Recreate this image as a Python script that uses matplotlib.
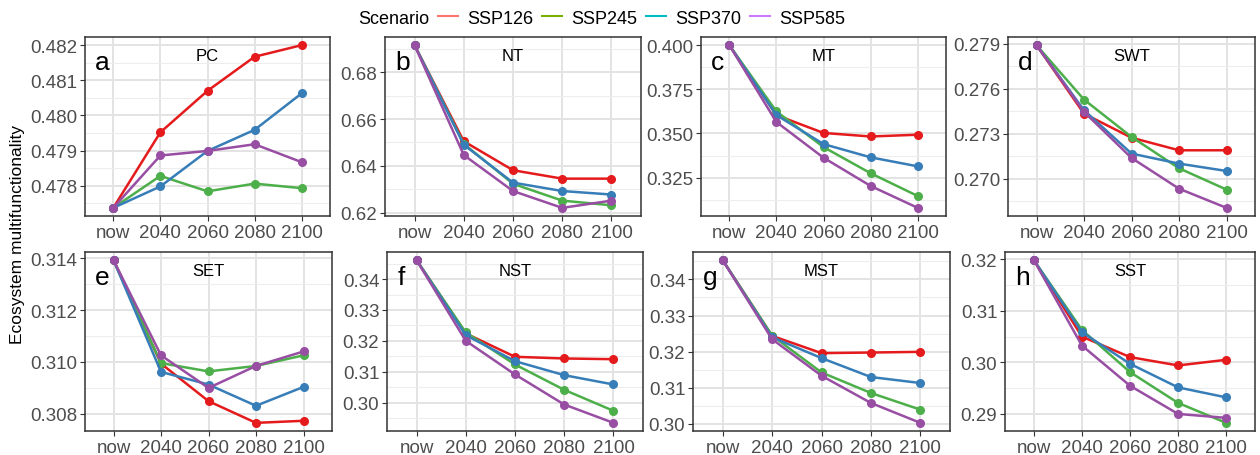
import matplotlib
matplotlib.use("Agg")
import matplotlib.pyplot as plt
from matplotlib.lines import Line2D
from matplotlib.ticker import FixedLocator, FormatStrFormatter, AutoMinorLocator

plt.rcParams['font.family'] = ['Liberation Sans', 'DejaVu Sans']

# data
periods = ["now", "2040", "2060", "2080", "2100"]
panels = ["PC", "NT", "MT", "SWT", "SET", "NST", "MST", "SST"]
letters = ["a", "b", "c", "d", "e", "f", "g", "h"]
scenarios = ["SSP126", "SSP245", "SSP370", "SSP585"]

ssp126 = [
    [0.47737, 0.47952, 0.48070, 0.48167, 0.48200],
    [0.69162, 0.65050, 0.63810, 0.63450, 0.63450],
    [0.40000, 0.36040, 0.35030, 0.34830, 0.34930],
    [0.27890, 0.27433, 0.27273, 0.27189, 0.27189],
    [0.31393, 0.30993, 0.30848, 0.30764, 0.30772],
    [0.34616, 0.32239, 0.31483, 0.31428, 0.31405],
    [0.34533, 0.32436, 0.31959, 0.31975, 0.31994],
    [0.31986, 0.30499, 0.30100, 0.29937, 0.30047],
]
ssp245 = [
    [0.47737, 0.47828, 0.47784, 0.47806, 0.47793],
    [0.69162, 0.64940, 0.63230, 0.62510, 0.62310],
    [0.40000, 0.36250, 0.34230, 0.32750, 0.31460],
    [0.27890, 0.27527, 0.27278, 0.27069, 0.26927],
    [0.31393, 0.30995, 0.30963, 0.30984, 0.31025],
    [0.34616, 0.32271, 0.31233, 0.30412, 0.29731],
    [0.34533, 0.32445, 0.31424, 0.30855, 0.30394],
    [0.31986, 0.30629, 0.29808, 0.29208, 0.28820],
]
ssp370 = [
    [0.47737, 0.47798, 0.47899, 0.47959, 0.48063],
    [0.69162, 0.64900, 0.63280, 0.62920, 0.62770],
    [0.40000, 0.36040, 0.34400, 0.33650, 0.33140],
    [0.27890, 0.27456, 0.27167, 0.27100, 0.27051],
    [0.31393, 0.30961, 0.30912, 0.30830, 0.30903],
    [0.34616, 0.32184, 0.31341, 0.30887, 0.30585],
    [0.34533, 0.32399, 0.31821, 0.31297, 0.31131],
    [0.31986, 0.30584, 0.29969, 0.29510, 0.29316],
]
ssp585 = [
    [0.47737, 0.47886, 0.47899, 0.47918, 0.47867],
    [0.69162, 0.64460, 0.62920, 0.62200, 0.62510],
    [0.40000, 0.35650, 0.33630, 0.32030, 0.30790],
    [0.27890, 0.27445, 0.27138, 0.26933, 0.26805],
    [0.31393, 0.31025, 0.30899, 0.30984, 0.31040],
    [0.34616, 0.32000, 0.30910, 0.29935, 0.29341],
    [0.34533, 0.32345, 0.31333, 0.30579, 0.30028],
    [0.31986, 0.30324, 0.29542, 0.28994, 0.28917],
]

yticks = [
    [0.478, 0.479, 0.480, 0.481, 0.482],
    [0.62, 0.64, 0.66, 0.68],
    [0.325, 0.350, 0.375, 0.400],
    [0.270, 0.273, 0.276, 0.279],
    [0.308, 0.310, 0.312, 0.314],
    [0.30, 0.31, 0.32, 0.33, 0.34],
    [0.30, 0.31, 0.32, 0.33, 0.34],
    [0.29, 0.30, 0.31, 0.32],
]
yfmt = ["%.3f", "%.2f", "%.3f", "%.3f", "%.3f", "%.2f", "%.2f", "%.2f"]

line_colors = ["#E41A1C", "#4DAF4A", "#377EB8", "#984EA3"]
key_colors = ["#F8766D", "#7CAE00", "#00BFC4", "#C77CFF"]

W, H = 1260, 456
# panel boxes in pixels: left, right, top, bottom
boxes = [
    (85, 330, 38, 217), (385, 641, 38, 217), (701, 946, 38, 217), (1008, 1255, 38, 217),
    (85, 332, 253, 432), (387, 643, 253, 432), (693, 950, 253, 432), (1005, 1255, 253, 432),
]

fig = plt.figure(figsize=(W / 100, H / 100), dpi=100)

series = [ssp126, ssp245, ssp370, ssp585]
x = list(range(len(periods)))

for i, name in enumerate(panels):
    l, r, t, b = boxes[i]
    ax = fig.add_axes([l / W, 1 - b / H, (r - l) / W, (b - t) / H])
    allv = []
    for s, col in zip(series, line_colors):
        ax.plot(x, s[i], color=col, lw=1.8, marker="o", ms=5.5, zorder=3)
        allv += s[i]
    lo, hi = min(allv), max(allv)
    pad = 0.05 * (hi - lo)
    ax.set_ylim(lo - pad, hi + pad)
    ax.set_xlim(-0.6, 4.6)
    ax.set_xticks(x)
    ax.set_xticklabels(periods)
    ax.yaxis.set_major_locator(FixedLocator(yticks[i]))
    ax.yaxis.set_major_formatter(FormatStrFormatter(yfmt[i]))
    ax.yaxis.set_minor_locator(AutoMinorLocator(2))
    ax.grid(True, which="major", color="#E3E3E3", lw=1.4, zorder=0)
    ax.grid(True, which="minor", axis="y", color="#EDEDED", lw=0.8, zorder=0)
    ax.set_axisbelow(True)
    ax.tick_params(which="major", length=3.5, width=0.8, color="#333333",
                   labelcolor="#4D4D4D", labelsize=13.5, pad=2)
    ax.tick_params(which="minor", length=0)
    for sp in ax.spines.values():
        sp.set_color("#333333")
        sp.set_linewidth(1.1)
    ax.text(0.04, 0.93, letters[i], transform=ax.transAxes, fontsize=19,
            va="top", ha="left", color="black")
    ax.text(0.5, 0.94, name, transform=ax.transAxes, fontsize=12,
            va="top", ha="center", color="black")

fig.text(18 / W, 1 - 235 / H, "Ecosystem multifunctionality", rotation=90,
         fontsize=12.5, va="center", ha="center")

fig.text(358 / W, 1 - 19 / H, "Scenario", fontsize=13, va="center", ha="left")
handles = [Line2D([], [], color=c, lw=1.5) for c in key_colors]
fig.legend(handles, scenarios, loc="center left", bbox_to_anchor=(438 / W, 1 - 19 / H),
           ncol=4, frameon=False, fontsize=13, handlelength=1.1, handletextpad=0.5,
           columnspacing=0.5, borderaxespad=0, borderpad=0)

fig.savefig("out.png", dpi=100)
